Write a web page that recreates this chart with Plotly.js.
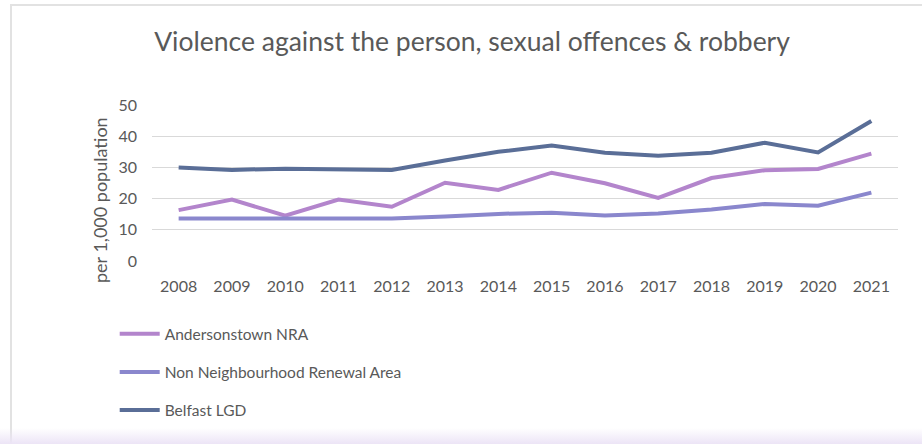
<!DOCTYPE html>
<html>
<head>
<meta charset="utf-8">
<script src="https://cdn.plot.ly/plotly-3.0.1.min.js"></script>
<style>
  html, body { margin: 0; padding: 0; background: #ffffff; }
  #frame { position: absolute; left: 0; top: 0; width: 922px; height: 444px; overflow: hidden; }
  #border { position: absolute; left: 10px; top: 4px; width: 940px; height: 460px;
            border-left: 2px solid #e2e2e2; border-top: 2px solid #e2e2e2; }
  #fade { position: absolute; left: 0; top: 428px; width: 922px; height: 16px;
          background: linear-gradient(to bottom, rgba(255,255,255,0), #ece4f6); }
  #chart { position: absolute; left: 0; top: 0; width: 922px; height: 444px; }
</style>
</head>
<body>
<div id="frame">
  <div id="border"></div>
  <div id="fade"></div>
  <div id="chart"></div>
</div>
<script>
const years = ['2008','2009','2010','2011','2012','2013','2014','2015','2016','2017','2018','2019','2020','2021'];
const andersonstown = [16.3, 19.7, 14.5, 19.7, 17.4, 25.1, 22.8, 28.3, 24.9, 20.2, 26.6, 29.1, 29.5, 34.4];
const nonNRA = [13.6, 13.6, 13.5, 13.6, 13.6, 14.3, 15.1, 15.5, 14.6, 15.2, 16.5, 18.3, 17.7, 21.9];
const belfast = [30.0, 29.2, 29.6, 29.4, 29.2, 32.2, 35.0, 37.0, 34.7, 33.7, 34.7, 37.9, 34.8, 44.9];
const seriesNames = ['Andersonstown NRA', 'Non Neighbourhood Renewal Area', 'Belfast LGD'];
const yTicks = [0, 10, 20, 30, 40, 50];

const FONT = 'Lato, "Open Sans", sans-serif';
const colors = ['#b385cc', '#8a87cd', '#5a6e97'];
const values = [andersonstown, nonNRA, belfast];

const traces = values.map((v, i) => ({
  x: years, y: v, type: 'scatter', mode: 'lines', name: seriesNames[i],
  legendgroup: 'g' + i,
  line: { color: colors[i], width: 4 }
}));

const layout = {
  width: 922, height: 444,
  margin: { l: 152, r: 24, t: 105, b: 183 },
  paper_bgcolor: 'rgba(0,0,0,0)',
  plot_bgcolor: 'rgba(0,0,0,0)',
  font: { family: FONT, color: '#595959', size: 15 },
  title: { text: 'Violence against the person, sexual offences & robbery',
           font: { family: FONT, size: 26.5, color: '#595959' },
           x: 0.512, xanchor: 'center', y: 0.905, yanchor: 'middle' },
  xaxis: { type: 'category', range: [-0.5, 13.5], showgrid: false, zeroline: false,
           showline: false, ticks: '', tickfont: { size: 16, color: '#595959' }, ticklabelstandoff: 14 },
  yaxis: { range: [0, 50], tickvals: yTicks, showgrid: true, gridcolor: '#d9d9d9', gridwidth: 1,
           zeroline: false, showline: false, ticks: '', tickfont: { size: 16, color: '#595959' },
           ticklabelstandoff: 14 },
  showlegend: true,
  legend: { orientation: 'v', x: -0.05, xanchor: 'left', y: -0.36, yanchor: 'top',
            font: { size: 15.5, color: '#595959' }, tracegroupgap: 15,
            bgcolor: 'rgba(0,0,0,0)', itemwidth: 40 },
  annotations: [{
    text: 'per 1,000 population', textangle: -90, showarrow: false,
    xref: 'paper', yref: 'paper', x: (100 - 152) / 746, y: (261 - 200) / 156,
    xanchor: 'center', yanchor: 'middle', font: { size: 18, color: '#595959' }
  }]
};

Plotly.newPlot('chart', traces, layout, { displayModeBar: false, staticPlot: true });
</script>
</body>
</html>
